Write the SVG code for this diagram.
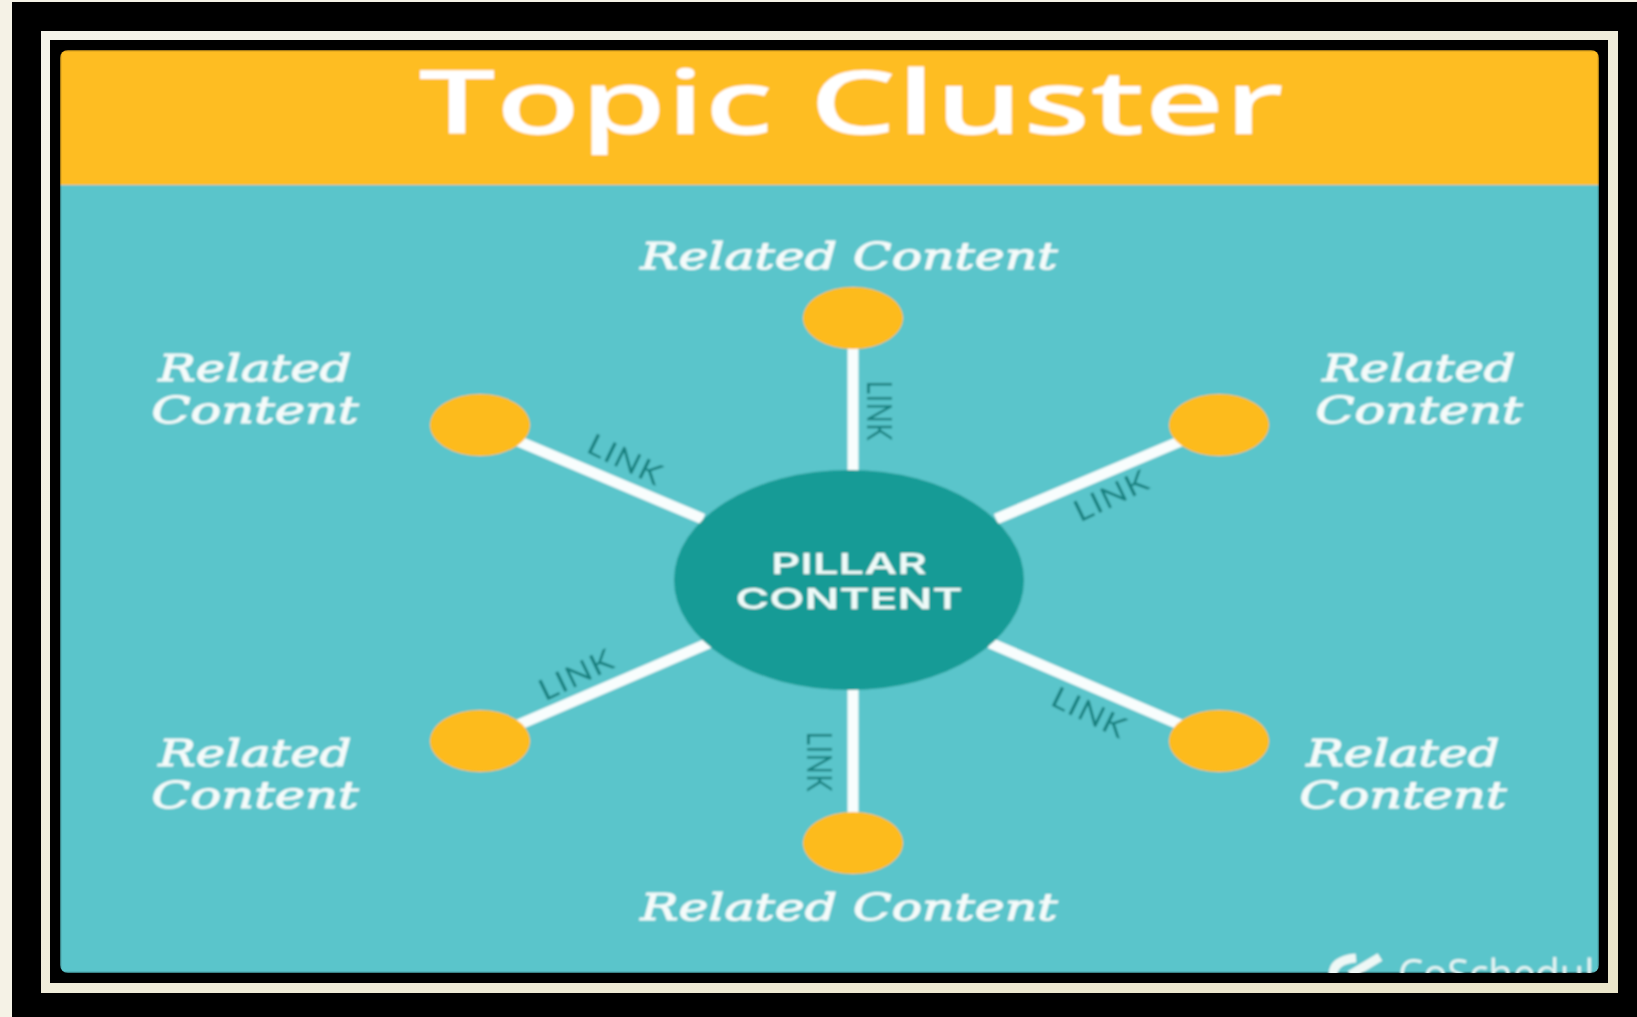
<svg xmlns="http://www.w3.org/2000/svg" width="1637" height="1017" viewBox="0 0 1637 1017">
<defs>
<style>
.rc{font-family:"DejaVu Serif","Liberation Serif",serif;font-style:italic;font-size:37px;fill:#f4fbfa;text-anchor:middle;stroke:#f4fbfa;stroke-width:1}
.lk{font-family:"Lato","Open Sans",sans-serif;font-size:27px;fill:#15807f;text-anchor:middle;letter-spacing:1px}
.pc{font-family:"Inter","Liberation Sans",sans-serif;font-weight:600;font-size:29px;fill:#eefaf8;text-anchor:middle}
.dot{fill:#fdbb1f}
.ln{stroke:#f8fdfd;stroke-width:11;fill:none}
</style>
<linearGradient id="cream" x1="0" y1="0" x2="1" y2="1"><stop offset="0" stop-color="#f5f4ea"/><stop offset="1" stop-color="#eae5ca"/></linearGradient>
<filter id="soft" x="-5%" y="-5%" width="110%" height="110%"><feGaussianBlur stdDeviation="1"/></filter>
<clipPath id="pic"><rect x="60" y="50" width="1539" height="923" rx="8"/></clipPath>
</defs>
<rect width="1637" height="1017" fill="#f5f2e6"/>
<rect x="12" y="2" width="1625" height="1015" fill="#000"/>
<rect x="41" y="31" width="1577" height="962" fill="url(#cream)"/>
<rect x="50" y="40" width="1558" height="943" fill="#000"/>
<g clip-path="url(#pic)">
<g filter="url(#soft)">
<rect id="panel" x="60" y="185" width="1539" height="788" fill="#5ac5cb"/>
<rect id="header" x="60" y="50" width="1539" height="135" fill="#febd23"/>
<text id="title" x="851" y="134" font-family="'Open Sans','Noto Sans',sans-serif" font-weight="600" font-size="88" fill="#fff" text-anchor="middle" textLength="866" lengthAdjust="spacingAndGlyphs">Topic Cluster</text>
<g id="connectors" class="ln">
<path d="M853 345V472"/><path d="M853 688V815"/>
<path d="M518 441L703 519"/><path d="M1181 441L996 519"/>
<path d="M518 725L709 643"/><path d="M1181 725L990 643"/>
</g>
<g id="link-labels">
<text class="lk" transform="translate(867 411) rotate(90) scale(.95 1.3)">LINK</text>
<text class="lk" transform="translate(621 469) rotate(26) scale(1.25 1.1)">LINK</text>
<text class="lk" transform="translate(1116 505) rotate(-26) scale(1.25 1.1)">LINK</text>
<text class="lk" transform="translate(581 684) rotate(-26) scale(1.25 1.1)">LINK</text>
<text class="lk" transform="translate(1085 722) rotate(26) scale(1.25 1.1)">LINK</text>
<text class="lk" transform="translate(807 762) rotate(90) scale(.95 1.3)">LINK</text>
</g>
<g id="pillar">
<ellipse cx="849" cy="580" rx="175" ry="110" fill="#149b96"/>
<text class="pc" x="849" y="574" textLength="156" lengthAdjust="spacingAndGlyphs">PILLAR</text>
<text class="pc" x="849" y="609" textLength="227" lengthAdjust="spacingAndGlyphs">CONTENT</text>
</g>
<g id="node-top"><ellipse class="dot" cx="853" cy="318" rx="50" ry="31"/><text class="rc" x="849" y="269" textLength="417" lengthAdjust="spacingAndGlyphs">Related Content</text></g>
<g id="node-upper-left"><ellipse class="dot" cx="480" cy="425" rx="50" ry="31"/><text class="rc" x="255" y="381" textLength="193" lengthAdjust="spacingAndGlyphs">Related</text><text class="rc" x="255" y="423" textLength="207" lengthAdjust="spacingAndGlyphs">Content</text></g>
<g id="node-upper-right"><ellipse class="dot" cx="1219" cy="425" rx="50" ry="31"/><text class="rc" x="1419" y="381" textLength="193" lengthAdjust="spacingAndGlyphs">Related</text><text class="rc" x="1419" y="423" textLength="207" lengthAdjust="spacingAndGlyphs">Content</text></g>
<g id="node-lower-left"><ellipse class="dot" cx="480" cy="741" rx="50" ry="31"/><text class="rc" x="255" y="766" textLength="193" lengthAdjust="spacingAndGlyphs">Related</text><text class="rc" x="255" y="808" textLength="207" lengthAdjust="spacingAndGlyphs">Content</text></g>
<g id="node-lower-right"><ellipse class="dot" cx="1219" cy="741" rx="50" ry="31"/><text class="rc" x="1403" y="766" textLength="193" lengthAdjust="spacingAndGlyphs">Related</text><text class="rc" x="1403" y="808" textLength="207" lengthAdjust="spacingAndGlyphs">Content</text></g>
<g id="node-bottom"><ellipse class="dot" cx="853" cy="843" rx="50" ry="31"/><text class="rc" x="849" y="920" textLength="417" lengthAdjust="spacingAndGlyphs">Related Content</text></g>
<g id="brand">
<path d="M1333 975Q1333 960 1356 958M1350 975L1380 957" stroke="#eef8f6" stroke-width="9" fill="none"/>
<text x="1398" y="988" font-family="'Open Sans',sans-serif" font-size="40" fill="#e6f5f4">CoSchedule</text>
</g>
</g>
</g>
</svg>
